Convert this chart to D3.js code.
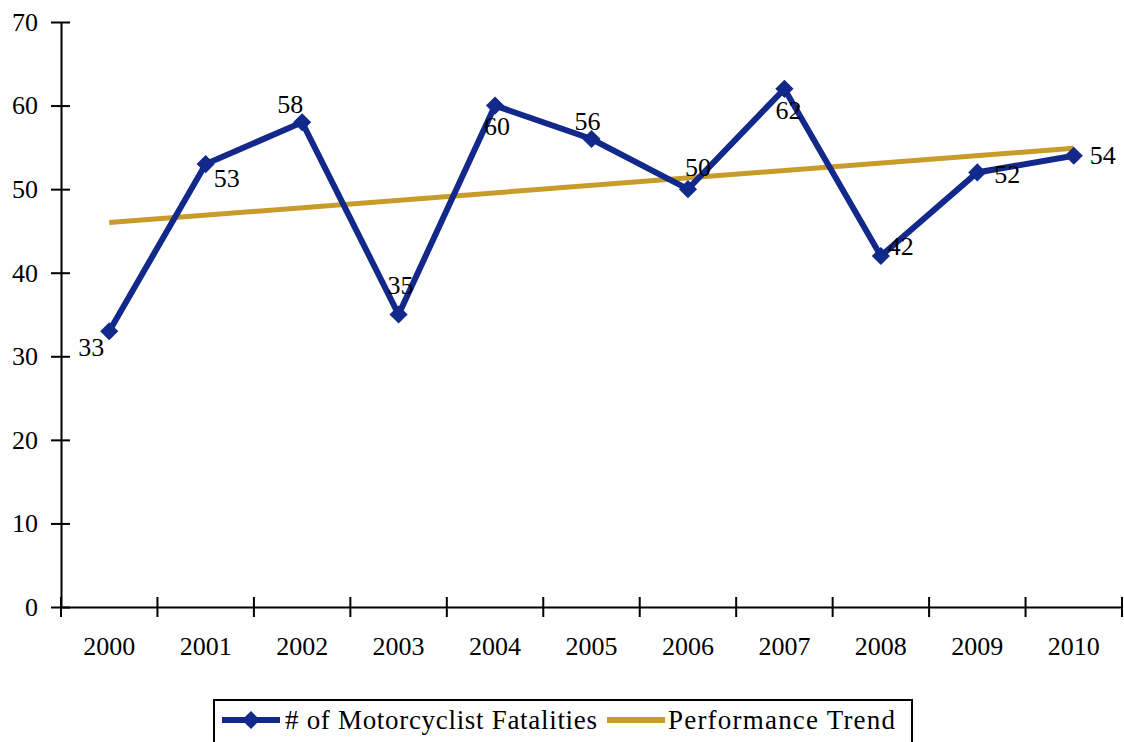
<!DOCTYPE html>
<html>
<head>
<meta charset="utf-8">
<script src="https://cdn.jsdelivr.net/npm/d3@7"></script>
<style>
  body { margin: 0; background: #fff; }
  text { font-family: "Liberation Serif", "Times New Roman", serif; fill: #000; }
</style>
</head>
<body>
<div id="chart"></div>
<script>
// data
const years = ['2000', '2001', '2002', '2003', '2004', '2005', '2006', '2007', '2008', '2009', '2010'];
const fatalities = [33, 53, 58, 35, 60, 56, 50, 62, 42, 52, 54];
const trendYears = ['2000', '2010'];
const trendValues = [46.0, 54.9];
const yTicks = [0, 10, 20, 30, 40, 50, 60, 70];
const seriesNames = ['# of Motorcyclist Fatalities', 'Performance Trend'];

// where each value label sits relative to its point
const labelOffsets = [[-18, 16], [21, 14], [-12, -18], [2, -30], [2, 20], [-4, -18],
  [10, -22], [4, 21], [20, -10], [30, 1], [29, -1]];

const width = 1124, height = 742;
const margin = { top: 22, right: 2, bottom: 135, left: 61 };
const blue = '#12298b', gold = '#c89b2a';
const fontSize = 26;

const svg = d3.select('#chart').append('svg').attr('width', width).attr('height', height)
  .attr('font-family', '"Liberation Serif", serif');

const x = d3.scaleBand().domain(years).range([margin.left, width - margin.right]);
const y = d3.scaleLinear().domain([0, 70]).range([height - margin.bottom, margin.top]);
const cx = d => x(d) + x.bandwidth() / 2;

// y axis
const yAxis = d3.axisLeft(y).tickValues(yTicks).tickSizeInner(10).tickSizeOuter(0).tickPadding(13);
const gy = svg.append('g').attr('transform', `translate(${margin.left},0)`).call(yAxis)
  .attr('font-family', null).attr('font-size', fontSize);
gy.selectAll('.tick line').attr('x1', 9).attr('stroke-width', 2);
gy.select('.domain').attr('stroke-width', 2);

// x axis: labels in band centres, ticks on band edges
const xAxis = d3.axisBottom(x).tickSize(0).tickPadding(30);
const gx = svg.append('g').attr('transform', `translate(0,${y(0)})`).call(xAxis)
  .attr('font-family', null).attr('font-size', fontSize);
gx.select('.domain').attr('stroke-width', 2);
const edges = years.map(d => x(d)).concat([x.range()[1]]);
svg.append('g').selectAll('line').data(edges).join('line')
  .attr('x1', d => d).attr('x2', d => d)
  .attr('y1', y(0) - 10).attr('y2', y(0) + 10)
  .attr('stroke', '#000').attr('stroke-width', 2);

// trend line
svg.append('path')
  .datum(trendYears.map((d, i) => [cx(d), y(trendValues[i])]))
  .attr('d', d3.line())
  .attr('fill', 'none').attr('stroke', gold).attr('stroke-width', 5);

// series line
const points = years.map((d, i) => ({ year: d, value: fatalities[i] }));
svg.append('path')
  .datum(points)
  .attr('d', d3.line().x(d => cx(d.year)).y(d => y(d.value)))
  .attr('fill', 'none').attr('stroke', blue).attr('stroke-width', 6).attr('stroke-linejoin', 'miter');

const diamond = d3.symbol().type(d3.symbolSquare).size(165);
svg.append('g').selectAll('path').data(points).join('path')
  .attr('d', diamond)
  .attr('transform', d => `translate(${cx(d.year)},${y(d.value)}) rotate(45)`)
  .attr('fill', blue);

// value labels
svg.append('g').selectAll('text').data(points).join('text')
  .attr('x', (d, i) => cx(d.year) + labelOffsets[i][0])
  .attr('y', (d, i) => y(d.value) + labelOffsets[i][1])
  .attr('dy', '0.35em')
  .attr('text-anchor', 'middle')
  .attr('font-size', fontSize)
  .text(d => d.value);

// legend
const legend = svg.append('g');
legend.append('rect')
  .attr('x', 214).attr('y', 700).attr('width', 698).attr('height', 60)
  .attr('fill', '#fff').attr('stroke', '#000').attr('stroke-width', 2);
const ly = 720;
legend.append('line').attr('x1', 222).attr('x2', 280).attr('y1', ly).attr('y2', ly)
  .attr('stroke', blue).attr('stroke-width', 6);
legend.append('path').attr('d', diamond).attr('transform', `translate(251,${ly}) rotate(45)`).attr('fill', blue);
legend.append('text').attr('x', 285).attr('y', ly).attr('dy', '0.35em').attr('font-size', 27)
  .attr('textLength', 312).attr('lengthAdjust', 'spacing').text(seriesNames[0]);
legend.append('line').attr('x1', 607).attr('x2', 665).attr('y1', ly).attr('y2', ly)
  .attr('stroke', gold).attr('stroke-width', 6);
legend.append('text').attr('x', 668).attr('y', ly).attr('dy', '0.35em').attr('font-size', 27)
  .attr('textLength', 227).attr('lengthAdjust', 'spacing').text(seriesNames[1]);
</script>
</body>
</html>
